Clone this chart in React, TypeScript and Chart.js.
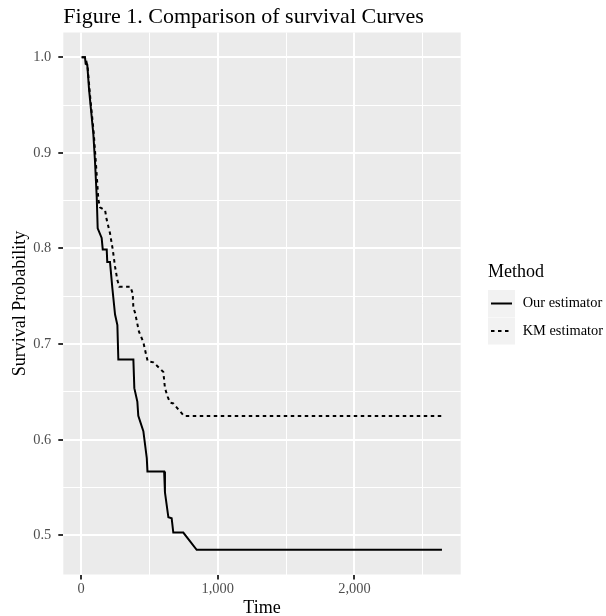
import { useEffect, useRef } from "react";
import { Chart, registerables } from "chart.js";

Chart.register(...registerables);

const ourTime = [5, 29, 34, 46, 59, 90, 102, 115, 122, 151, 159, 188, 192, 212, 229, 249, 266, 273, 383, 390, 412, 419, 456, 481, 486, 608, 614, 639, 663, 675, 748, 846, 2640];
const ourSurv = [1.0, 1.0, 0.993, 0.992, 0.966, 0.92, 0.892, 0.854, 0.821, 0.811, 0.799, 0.799, 0.786, 0.786, 0.759, 0.731, 0.72, 0.684, 0.684, 0.654, 0.64, 0.625, 0.609, 0.581, 0.567, 0.567, 0.545, 0.519, 0.518, 0.503, 0.503, 0.485, 0.485];

const kmTime = [5, 29, 37, 48, 66, 93, 110, 127, 139, 176, 188, 212, 232, 249, 266, 280, 361, 378, 383, 395, 424, 456, 473, 488, 529, 602, 614, 634, 651, 675, 753, 2640];
const kmSurv = [1.0, 1.0, 0.997, 0.99, 0.96, 0.921, 0.887, 0.851, 0.843, 0.84, 0.83, 0.816, 0.799, 0.781, 0.767, 0.76, 0.76, 0.753, 0.738, 0.733, 0.713, 0.702, 0.691, 0.682, 0.681, 0.671, 0.654, 0.645, 0.639, 0.638, 0.625, 0.625];

const xTicks = [0, 500, 1000, 1500, 2000, 2500];
const yTicks = [0.5, 0.55, 0.6, 0.65, 0.7, 0.75, 0.8, 0.85, 0.9, 0.95, 1.0];

const titleText = "Figure 1. Comparison of survival Curves";
const xTitle = "Time";
const yTitle = "Survival Probability";
const legendTitle = "Method";
const seriesNames = ["Our estimator", "KM estimator"];

const SERIF = "'Liberation Serif', 'DejaVu Serif', serif";

const isMajorX = (v: number) => Math.abs(v % 1000) < 1e-6;
const isMajorY = (v: number) => Math.abs(v * 10 - Math.round(v * 10)) < 1e-6;

const decorPlugin = {
  id: "decor",
  beforeDraw(chart: any) {
    const { ctx, chartArea: a } = chart;
    ctx.save();
    ctx.fillStyle = "#ebebeb";
    ctx.fillRect(a.left, a.top, a.right - a.left, a.bottom - a.top);
    ctx.restore();
  },
  afterDraw(chart: any) {
    const { ctx, chartArea: a } = chart;
    ctx.save();
    // title
    ctx.fillStyle = "#000000";
    ctx.font = `22px ${SERIF}`;
    ctx.textAlign = "left";
    ctx.textBaseline = "alphabetic";
    ctx.fillText(titleText, a.left, 22.7);

    // legend
    const lx = 488;
    ctx.font = `18px ${SERIF}`;
    ctx.fillText(legendTitle, lx, 277.3);
    const keys = [
      { top: 290, dash: [] as number[] },
      { top: 317.5, dash: [3.5, 3.5] },
    ];
    keys.forEach((k, i) => {
      ctx.fillStyle = "#f2f2f2";
      ctx.fillRect(lx, k.top, 27, 27);
      const cy = k.top + 13.5;
      ctx.strokeStyle = "#000000";
      ctx.lineWidth = 2;
      ctx.setLineDash(k.dash);
      ctx.beginPath();
      ctx.moveTo(lx + 3, cy);
      ctx.lineTo(lx + 24, cy);
      ctx.stroke();
      ctx.setLineDash([]);
      ctx.fillStyle = "#000000";
      ctx.font = `14.4px ${SERIF}`;
      ctx.textBaseline = "middle";
      ctx.fillText(seriesNames[i], 522.7, cy);
    });
    ctx.restore();
  },
};

export default function App() {
  const ref = useRef<HTMLCanvasElement | null>(null);

  useEffect(() => {
    document.body.style.margin = "0";
    const canvas = ref.current;
    if (!canvas) return;
    const chart = new Chart(canvas, {
      type: "line",
      data: {
        datasets: [
          {
            label: seriesNames[0],
            data: ourTime.map((t, i) => ({ x: t, y: ourSurv[i] })),
            borderColor: "#000000",
            borderWidth: 2,
            pointRadius: 0,
            tension: 0,
            fill: false,
          },
          {
            label: seriesNames[1],
            data: kmTime.map((t, i) => ({ x: t, y: kmSurv[i] })),
            borderColor: "#000000",
            borderWidth: 2,
            borderDash: [3.5, 3.5],
            pointRadius: 0,
            tension: 0,
            fill: false,
          },
        ],
      },
      options: {
        responsive: false,
        animation: false,
        devicePixelRatio: 1,
        layout: { padding: { left: 0, right: 606 - 460.7, top: 32.5, bottom: 0 } },
        plugins: {
          legend: { display: false },
          title: { display: false },
          tooltip: { enabled: false },
        },
        scales: {
          x: {
            type: "linear",
            min: -129.5,
            max: 2777,
            afterBuildTicks: (s: any) => {
              s.ticks = xTicks.map((v) => ({ value: v }));
            },
            afterFit: (s: any) => {
              s.height = 616 - 574.5;
            },
            border: { display: false },
            grid: {
              color: "#ffffff",
              lineWidth: (c: any) => (isMajorX(c.tick.value) ? 2 : 1),
              tickColor: (c: any) => (isMajorX(c.tick.value) ? "#333333" : "rgba(0,0,0,0)"),
              tickWidth: 2,
              tickLength: 5,
              drawTicks: true,
            },
            ticks: {
              autoSkip: false,
              maxRotation: 0,
              padding: 1,
              color: "#4d4d4d",
              font: { family: SERIF, size: 14.4 },
              callback: (v: any) => (isMajorX(Number(v)) ? Number(v).toLocaleString("en-US") : ""),
            },
            title: {
              display: true,
              text: xTitle,
              color: "#000000",
              font: { family: SERIF, size: 18, lineHeight: 0.9 },
              padding: { top: 0, bottom: 0 },
            },
          },
          y: {
            type: "linear",
            min: 0.4592,
            max: 1.0258,
            afterBuildTicks: (s: any) => {
              s.ticks = yTicks.map((v) => ({ value: v }));
            },
            afterFit: (s: any) => {
              s.width = 63.3;
            },
            border: { display: false },
            grid: {
              color: "#ffffff",
              lineWidth: (c: any) => (isMajorY(c.tick.value) ? 2 : 1),
              tickColor: (c: any) => (isMajorY(c.tick.value) ? "#333333" : "rgba(0,0,0,0)"),
              tickWidth: 2,
              tickLength: 5,
              drawTicks: true,
            },
            ticks: {
              autoSkip: false,
              padding: 7,
              color: "#4d4d4d",
              font: { family: SERIF, size: 14.4 },
              callback: (v: any) => (isMajorY(Number(v)) ? Number(v).toFixed(1) : ""),
            },
            title: {
              display: true,
              text: yTitle,
              color: "#000000",
              font: { family: SERIF, size: 18, lineHeight: 1 },
              padding: { top: 11, bottom: 0 },
            },
          },
        },
      },
      plugins: [decorPlugin],
    });
    return () => chart.destroy();
  }, []);

  return (
    <div style={{ width: 606, height: 616 }}>
      <canvas ref={ref} width={606} height={616} style={{ display: "block", width: 606, height: 616 }} />
    </div>
  );
}
